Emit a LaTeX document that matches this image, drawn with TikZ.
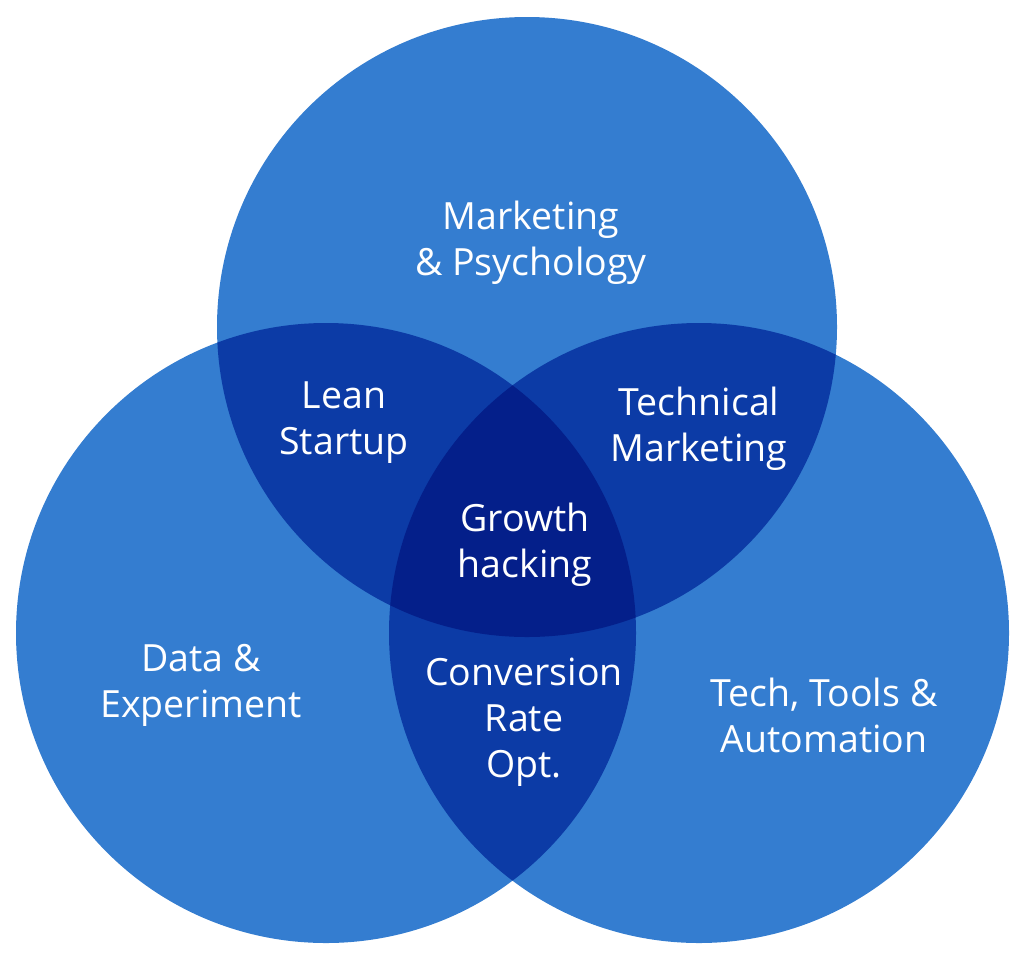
\documentclass[tikz,border=0pt]{standalone}
\usepackage{fontspec}
\setmainfont{Open Sans}
\definecolor{vennbase}{HTML}{347DD0}
\definecolor{venntwo}{HTML}{0C3BA6}
\definecolor{vennthree}{HTML}{041F8A}
\usetikzlibrary{positioning}

\begin{document}
\begin{tikzpicture}[x=1pt,y=-1pt,
  lbl/.style={text=white, align=center, font=\fontsize{37.5}{46}\selectfont}]
\useasboundingbox (0,0) rectangle (1024,954);
\coordinate (top) at (527,327);
\coordinate (left) at (326,633);
\coordinate (right) at (699,633);
\fill[vennbase] (top) circle[radius=310pt];
\fill[vennbase] (left) circle[radius=310pt];
\fill[vennbase] (right) circle[radius=310pt];
% pairwise overlaps
\begin{scope}
\clip (top) circle[radius=310pt];
\fill[venntwo] (left) circle[radius=310pt];
\fill[venntwo] (right) circle[radius=310pt];
\end{scope}
\begin{scope}
\clip (left) circle[radius=310pt];
\fill[venntwo] (right) circle[radius=310pt];
\end{scope}
% centre
\begin{scope}
\clip (top) circle[radius=310pt];
\clip (left) circle[radius=310pt];
\fill[vennthree] (right) circle[radius=310pt];
\end{scope}
\node[lbl] (mkt) at (531,243) {Marketing\\\& Psychology};
\node[lbl] (lean) at (344,423) {Lean\\Startup};
\node[lbl] (techmkt) at (699,429) {Technical\\Marketing};
\node[lbl] (growth) at (525,545) {Growth\\hacking};
\node[lbl] (data) at (201,685) {Data \&\\Experiment};
\node[lbl] (cro) at (524,722) {Conversion\\Rate\\Opt.};
\node[lbl] (tools) at (824,715) {Tech, Tools \&\\Automation};
\end{tikzpicture}
\end{document}
